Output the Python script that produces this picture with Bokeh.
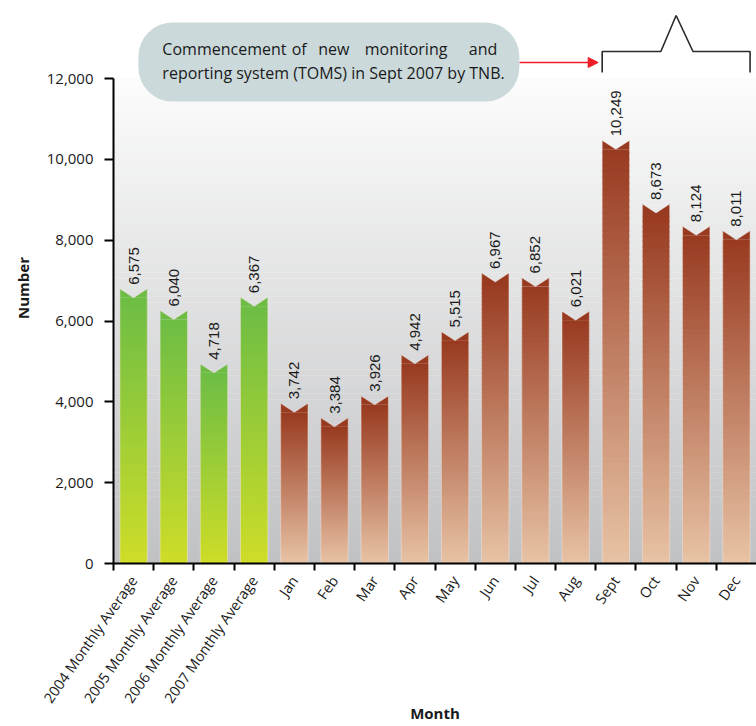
import numpy as np
from bokeh.plotting import figure
from bokeh.models import (Range1d, FixedTicker, ColumnDataSource, LabelSet, Label,
                          BoxAnnotation, Arrow, NormalHead)
from bokeh.core.properties import value
from bokeh.embed import file_html
from bokeh.resources import INLINE

# ---------------- data ----------------
categories = ["2004 Monthly Average", "2005 Monthly Average", "2006 Monthly Average",
              "2007 Monthly Average", "Jan", "Feb", "Mar", "Apr", "May", "Jun", "Jul",
              "Aug", "Sept", "Oct", "Nov", "Dec"]
values = [6575, 6040, 4718, 6367, 3742, 3384, 3926, 4942, 5515, 6967, 6852, 6021,
          10249, 8673, 8124, 8011]
groups = ["average"] * 4 + ["month"] * 12
y_ticks = [0, 2000, 4000, 6000, 8000, 10000, 12000]
note_line1 = ["Commencement", "of", "new", "monitoring", "and"]
note_line2 = "reporting system (TOMS) in Sept 2007 by TNB."
bracket_from, bracket_to = "Sept", "Dec"

# ---------------- styling ----------------
BAR_W = 0.68
NOTCH = 220.0
Y_END = 13633
Y_TOP = 12000
colors = {"average": ("#cedd28", "#6dbd45"), "month": ("#e8c3a5", "#983a20")}
BG_BOTTOM, BG_TOP = "#c0c1c3", "#fcfcfc"
TICK_FONT = "Open Sans"


def hex2rgb(h):
    h = h.lstrip("#")
    return np.array([int(h[i:i + 2], 16) for i in (0, 2, 4)], dtype=float)


def mix(c0, c1, t):
    c = hex2rgb(c0) * (1 - t) + hex2rgb(c1) * t
    return "#%02x%02x%02x" % tuple(int(round(v)) for v in c)


p = figure(width=756, height=726, x_range=Range1d(0, 16), y_range=Range1d(0, Y_END),
           output_backend="svg", toolbar_location=None,
           min_border_left=113, min_border_right=0, min_border_top=12,
           min_border_bottom=163)
p.outline_line_color = None
p.xgrid.visible = False
p.ygrid.visible = False
p.background_fill_color = "white"
p.border_fill_color = "white"

# background gradient below 12,000
NB = 80
bl, bb, bt, bc = [], [], [], []
for j in range(NB):
    y0 = Y_TOP * j / NB
    y1 = Y_TOP * (j + 1) / NB
    bl.append(0)
    bb.append(y0)
    bt.append(min(y1 + 8, Y_TOP))
    bc.append(mix(BG_BOTTOM, BG_TOP, (j + 0.5) / NB))
p.quad(left=bl, right=[16] * NB, bottom=bb, top=bt, fill_color=bc, line_color=None)

# bars: gradient strips + notched top
NS = 70
sl, sr, sb, st, sc = [], [], [], [], []
txs, tys, tcs = [], [], []
oxs, oys = [], []
for i, (v, g) in enumerate(zip(values, groups)):
    c = i + 0.5
    L, R = c - BAR_W / 2, c + BAR_W / 2
    c_bot, c_top = colors[g]
    for j in range(NS):
        y0 = v * j / NS
        y1 = v * (j + 1) / NS
        sl.append(L)
        sr.append(R)
        sb.append(y0)
        st.append(min(y1 + v / NS * 0.6, v))
        sc.append(mix(c_bot, c_top, (j + 0.5) / NS))
    txs.append([L, L, c, R, R])
    tys.append([v - 1, v + NOTCH, v, v + NOTCH, v - 1])
    tcs.append(c_top)
    oxs.append([L, L, c, R, R])
    oys.append([0, v + NOTCH, v, v + NOTCH, 0])

p.quad(left=sl, right=sr, bottom=sb, top=st, fill_color=sc, line_color=None)
p.patches(xs=txs, ys=tys, fill_color=tcs, line_color=None)
p.patches(xs=oxs, ys=oys, fill_color=None, line_color="#f3e6df", line_alpha=0.5,
          line_width=1)

# value labels
src = ColumnDataSource(dict(x=[i + 0.5 for i in range(len(values))], y=values,
                            t=["{:,}".format(v) for v in values]))
p.add_layout(LabelSet(x="x", y="y", text="t", source=src, angle=np.pi / 2,
                      text_align="left", text_baseline="middle", y_offset=13,
                      text_font=value("Liberation Sans"), text_font_size="15px",
                      text_color="#1a1a1a"))

# axes
xa = p.xaxis[0]
xa.ticker = FixedTicker(ticks=[i + 0.5 for i in range(len(categories))],
                        minor_ticks=list(range(len(categories))))
xa.major_label_overrides = {i + 0.5: c for i, c in enumerate(categories)}
xa.major_label_orientation = np.radians(55)
xa.major_tick_line_color = None
xa.major_tick_out = 7
xa.major_tick_in = 0
xa.minor_tick_out = 7
xa.minor_tick_in = 0
xa.minor_tick_line_width = 2
xa.minor_tick_line_color = "black"
xa.axis_line_width = 2
xa.axis_line_color = "black"
xa.major_label_standoff = 7
xa.major_label_text_font = TICK_FONT
xa.major_label_text_font_size = "14.5px"
xa.major_label_text_color = "#1a1a1a"
xa.axis_label = "Month"
xa.axis_label_text_font = TICK_FONT
xa.axis_label_text_font_size = "15px"
xa.axis_label_text_font_style = "bold"
xa.axis_label_text_color = "#1a1a1a"
xa.axis_label_standoff = -12

ya = p.yaxis[0]
ya.ticker = FixedTicker(ticks=y_ticks, minor_ticks=[])
ya.bounds = (0, Y_TOP)
ya.major_label_overrides = {t: "{:,}".format(t) for t in y_ticks}
ya.major_tick_out = 9
ya.major_tick_in = 0
ya.major_tick_line_width = 2
ya.major_tick_line_color = "black"
ya.minor_tick_line_color = None
ya.axis_line_width = 2
ya.axis_line_color = "black"
ya.major_label_standoff = 11
ya.major_label_text_font = TICK_FONT
ya.major_label_text_font_size = "15px"
ya.major_label_text_color = "#1a1a1a"
ya.axis_label = "Number"
ya.axis_label_text_font = TICK_FONT
ya.axis_label_text_font_size = "15px"
ya.axis_label_text_font_style = "bold"
ya.axis_label_text_color = "#1a1a1a"
ya.axis_label_standoff = 11

# annotation box
box_left, box_right, box_top, box_bottom = 0.62, 10.1, 13386, 11431
p.add_layout(BoxAnnotation(left=box_left, right=box_right, top=box_top, bottom=box_bottom,
                           fill_color="#cbd9da", fill_alpha=1.0, line_color=None,
                           border_radius=34, level="overlay"))

line1_y, line2_y = 12742, 12124
pos1 = [(1.216, "left"), (4.62, "center"), (5.48, "center"), (7.28, "center"),
        (9.55, "right")]
for w, (xx, al) in zip(note_line1, pos1):
    p.add_layout(Label(x=xx, y=line1_y, text=w, text_align=al, text_baseline="middle",
                       text_font=TICK_FONT, text_font_size="16px", text_color="#1a1a1a",
                       level="overlay"))
p.add_layout(Label(x=1.216, y=line2_y, text=note_line2, text_align="left",
                   text_baseline="middle", text_font=TICK_FONT, text_font_size="16px",
                   text_color="#1a1a1a", level="overlay"))

# bracket over Sept..Dec
i0 = categories.index(bracket_from)
i1 = categories.index(bracket_to)
bx0 = i0 + 0.5 - BAR_W / 2
bx1 = i1 + 0.5 + BAR_W / 2
bmid = (bx0 + bx1) / 2
p.line(x=[bx0, bx0, bmid - 0.38, bmid, bmid + 0.42, bx1, bx1],
       y=[12148, 12668, 12668, 13559, 12668, 12668, 12148],
       line_color="#2a2a2a", line_width=1.6)

# red arrow from the box to the bracket
p.add_layout(Arrow(x_start=box_right, y_start=12396, x_end=bx0 - 0.1, y_end=12396,
                   line_color="#ed1c24", line_width=1.4,
                   end=NormalHead(size=10, fill_color="#ed1c24", line_color="#ed1c24")))

open("out.html", "w").write(file_html(p, INLINE))
